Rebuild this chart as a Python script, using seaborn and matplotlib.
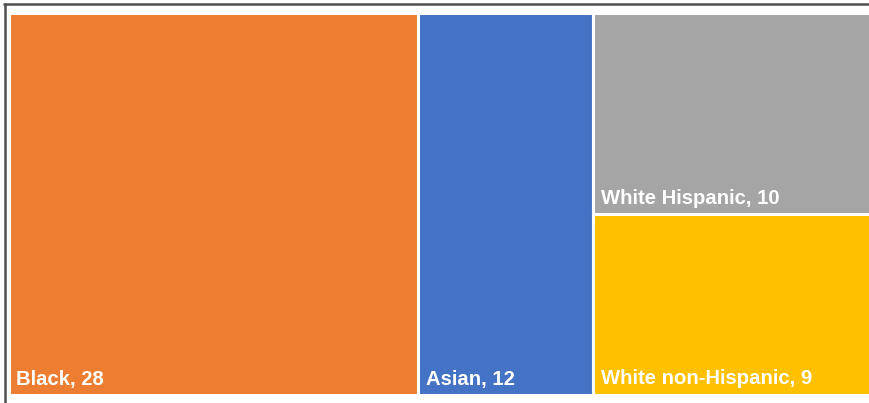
import matplotlib
matplotlib.use("Agg")
import matplotlib.pyplot as plt
import seaborn as sns

# Counts by group
groups = ["Black", "Asian", "White Hispanic", "White non-Hispanic"]
counts = [28, 12, 10, 9]
colors = ["#ED7D31", "#4472C4", "#A5A5A5", "#FFC000"]

sns.set_style("white")
plt.rcParams["font.family"] = ["Liberation Sans", "DejaVu Sans"]

W, H = 869, 403
fig = plt.figure(figsize=(W / 100, H / 100), dpi=100)
ax = fig.add_axes([0, 0, 1, 1])
ax.set_xlim(0, W)
ax.set_ylim(H, 0)
ax.axis("off")

# Plot area of the treemap (pixel units)
x0, x1 = 9.0, 871.0
y0, y1 = 13.0, 395.0
total = sum(counts)

# Slice-and-dice layout: first two groups as full-height columns,
# the remaining two stacked in the last column.
rects = []
x = x0
for v in counts[:2]:
    w = (x1 - x0) * v / total
    rects.append((x, y0, w, y1 - y0))
    x += w
rest = sum(counts[2:])
y = y0
for v in counts[2:]:
    h = (y1 - y0) * v / rest
    rects.append((x, y, x1 - x, h))
    y += h

for (rx, ry, rw, rh), name, val, col in zip(rects, groups, counts, colors):
    ax.bar(rx, rh, width=rw, bottom=ry, align="edge", color=col,
           edgecolor="white", linewidth=2.2)
    ax.text(rx + 7.5, ry + rh - 10.5, f"{name}, {val}", color="white",
            fontsize=14.6, fontweight="bold", ha="left", va="baseline")

# Outer frame (left and top edges)
ax.plot([4.5, 4.5], [3.0, H + 5], color="#505050", lw=1.8, solid_capstyle="butt")
ax.plot([3.3, W + 5], [3.8, 3.8], color="#505050", lw=1.8, solid_capstyle="butt")

fig.savefig("out.png", dpi=100)
